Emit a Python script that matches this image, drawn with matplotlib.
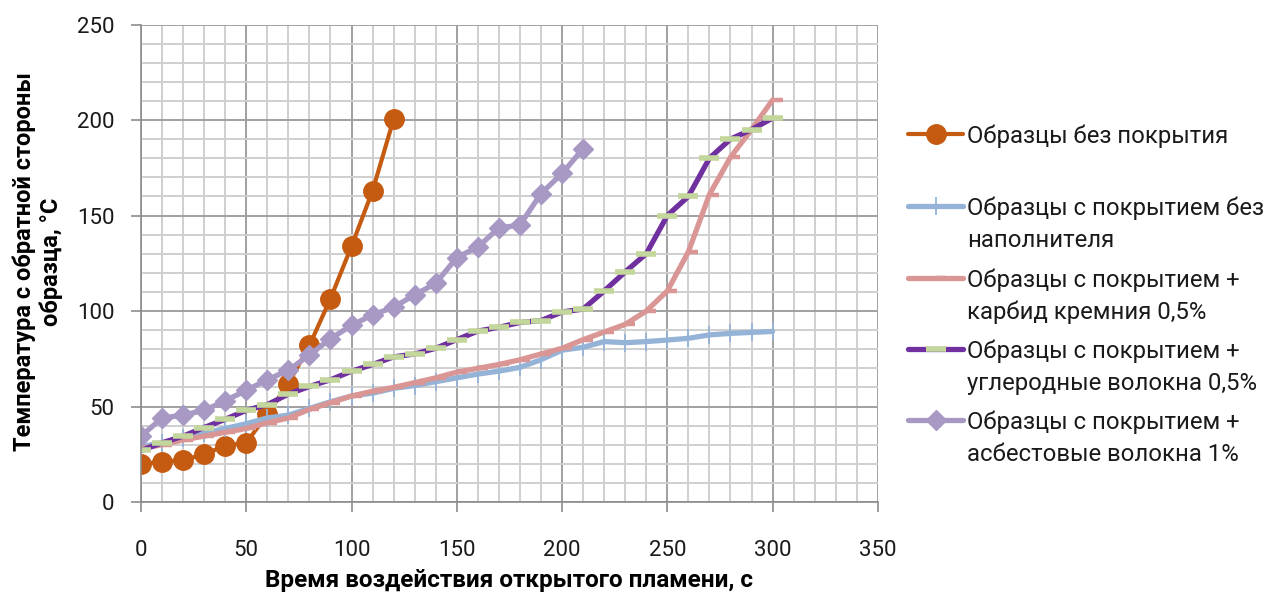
import numpy as np
import matplotlib
matplotlib.use('Agg')
from matplotlib import pyplot as plt
from matplotlib.lines import Line2D
from matplotlib.path import Path

plt.rcParams['font.family'] = ['Roboto', 'DejaVu Sans']

# time of flame exposure, s
time_bare = np.arange(0, 130, 10)
time_coat = np.arange(0, 310, 10)
time_asb = np.arange(0, 220, 10)

# temperature of the back side, deg C
temp_bare = [20, 21, 22, 25, 29.5, 31, 46, 62, 82, 106.5, 134, 163, 200.5]
temp_plain = [29, 31, 33.5, 36, 38.5, 41, 44, 45.5, 49, 52.5, 55.5, 57, 59.5, 61, 63, 65,
              67, 68.5, 70.5, 74.5, 79.5, 81, 84, 83.4, 84, 84.8, 85.7, 87.5, 88.3, 88.8, 89.3]
temp_sic = [28, 30, 32.5, 34.5, 36.5, 38.5, 41.5, 44, 48.5, 52, 55.5, 58, 60, 62.5, 65, 68,
            70, 72, 74.5, 77.5, 80.5, 85, 89, 93, 100, 110.5, 131, 161, 180.5, 195, 210.5]
temp_carbon = [27, 31, 34.5, 39, 43.3, 48, 51, 56.5, 60.5, 64, 68.5, 72, 76, 77.5, 80.5, 85,
               89.5, 91.5, 94, 95, 99.5, 101, 110.5, 120.5, 130, 150, 160, 180, 190, 195, 201]
temp_asb = [34.5, 44, 45.5, 48, 53, 58.5, 64, 69, 77, 85.5, 92.5, 98, 102, 108.5, 114.5, 128,
            133.5, 143.5, 145, 161.5, 172, 185]

labels = ['Образцы без покрытия',
          'Образцы с покрытием без\nнаполнителя',
          'Образцы с покрытием +\nкарбид кремния 0,5%',
          'Образцы с покрытием +\nуглеродные волокна 0,5%',
          'Образцы с покрытием +\nасбестовые волокна 1%']

# short dash that starts at the point and runs to the right
right_dash = Path([[0, 0], [1, 0]], [Path.MOVETO, Path.LINETO])

styles = [
    dict(color='#C55A11', lw=3.0, marker='o', ms=14, mec='#C55A11', mfc='#C55A11'),
    dict(color='#95B3D7', lw=3.8, marker='|', ms=13, mew=1.3, mec='#95B3D7'),
    dict(color='#D99694', lw=3.8, marker=right_dash, ms=14, mew=3.2, mec='#D99694'),
    dict(color='#7030A0', lw=3.8, marker='_', ms=14, mew=4, mec='#C3D69B'),
    dict(color='#A898C4', lw=3.8, marker='D', ms=10.5, mec='#A898C4', mfc='#A898C4'),
]
series = [(time_bare, temp_bare), (time_coat, temp_plain), (time_coat, temp_sic),
          (time_coat, temp_carbon), (time_asb, temp_asb)]

fig = plt.figure(figsize=(12.66, 5.92), dpi=100)
ax = fig.add_axes([0.1114, 0.152, 0.582, 0.8066])

for (t, v), st in zip(series, styles):
    ax.plot(t, v, solid_joinstyle='round', solid_capstyle='round', **st)

ax.set_xlim(0, 350)
ax.set_ylim(0, 250)
ax.set_xticks(np.arange(0, 351, 50))
ax.set_yticks(np.arange(0, 251, 50))
ax.set_xticks(np.arange(0, 351, 10), minor=True)
ax.set_yticks(np.arange(0, 251, 10), minor=True)
ax.grid(which='minor', color='#CFCFCF', lw=1.4)
ax.grid(which='major', color='#A0A0A0', lw=1.4)
ax.set_axisbelow(True)
for s in ['top', 'right']:
    ax.spines[s].set_visible(False)
for s in ['left', 'bottom']:
    ax.spines[s].set_color('#8C8C8C')
    ax.spines[s].set_linewidth(1.2)
ax.tick_params(which='major', direction='out', length=7, width=1.2, color='#8C8C8C',
               labelsize=16, labelcolor='#1A1A1A')
ax.tick_params(axis='x', which='major', pad=20)
ax.tick_params(axis='y', which='major', pad=12)
ax.tick_params(which='minor', length=0)

ax.set_xlabel('Время воздействия открытого пламени, с', fontsize=17.5, fontweight='bold',
              labelpad=6)
fig.text(38 / 1266, 1 - 262 / 592, 'Температура с обратной стороны\nобразца, °C',
         rotation=90, ha='center', va='center', fontsize=17, fontweight='bold',
         multialignment='center', linespacing=1.2)

# legend drawn entry by entry, handle level with the first text line
W, H = 1266, 592
rows = [134, 206, 278, 349, 420]
line_step = 32
for lab, st, yy in zip(labels, styles, rows):
    y = 1 - yy / H
    kw = dict(st)
    kw.pop('marker')
    ms = kw.pop('ms')
    mew = kw.pop('mew', 1)
    mec = kw.pop('mec')
    mfc = kw.pop('mfc', mec)
    fig.add_artist(Line2D([908 / W, 963 / W], [y, y], transform=fig.transFigure,
                          solid_capstyle='round', **kw))
    fig.add_artist(Line2D([935.5 / W], [y], transform=fig.transFigure, ls='none',
                          marker=st['marker'], ms=ms, mew=mew, mec=mec, mfc=mfc))
    for k, part in enumerate(lab.split('\n')):
        fig.text(967 / W, 1 - (yy + k * line_step) / H, part, ha='left',
                 va='center_baseline', fontsize=17.2, color='#1A1A1A')

fig.savefig('out.png', dpi=100)
